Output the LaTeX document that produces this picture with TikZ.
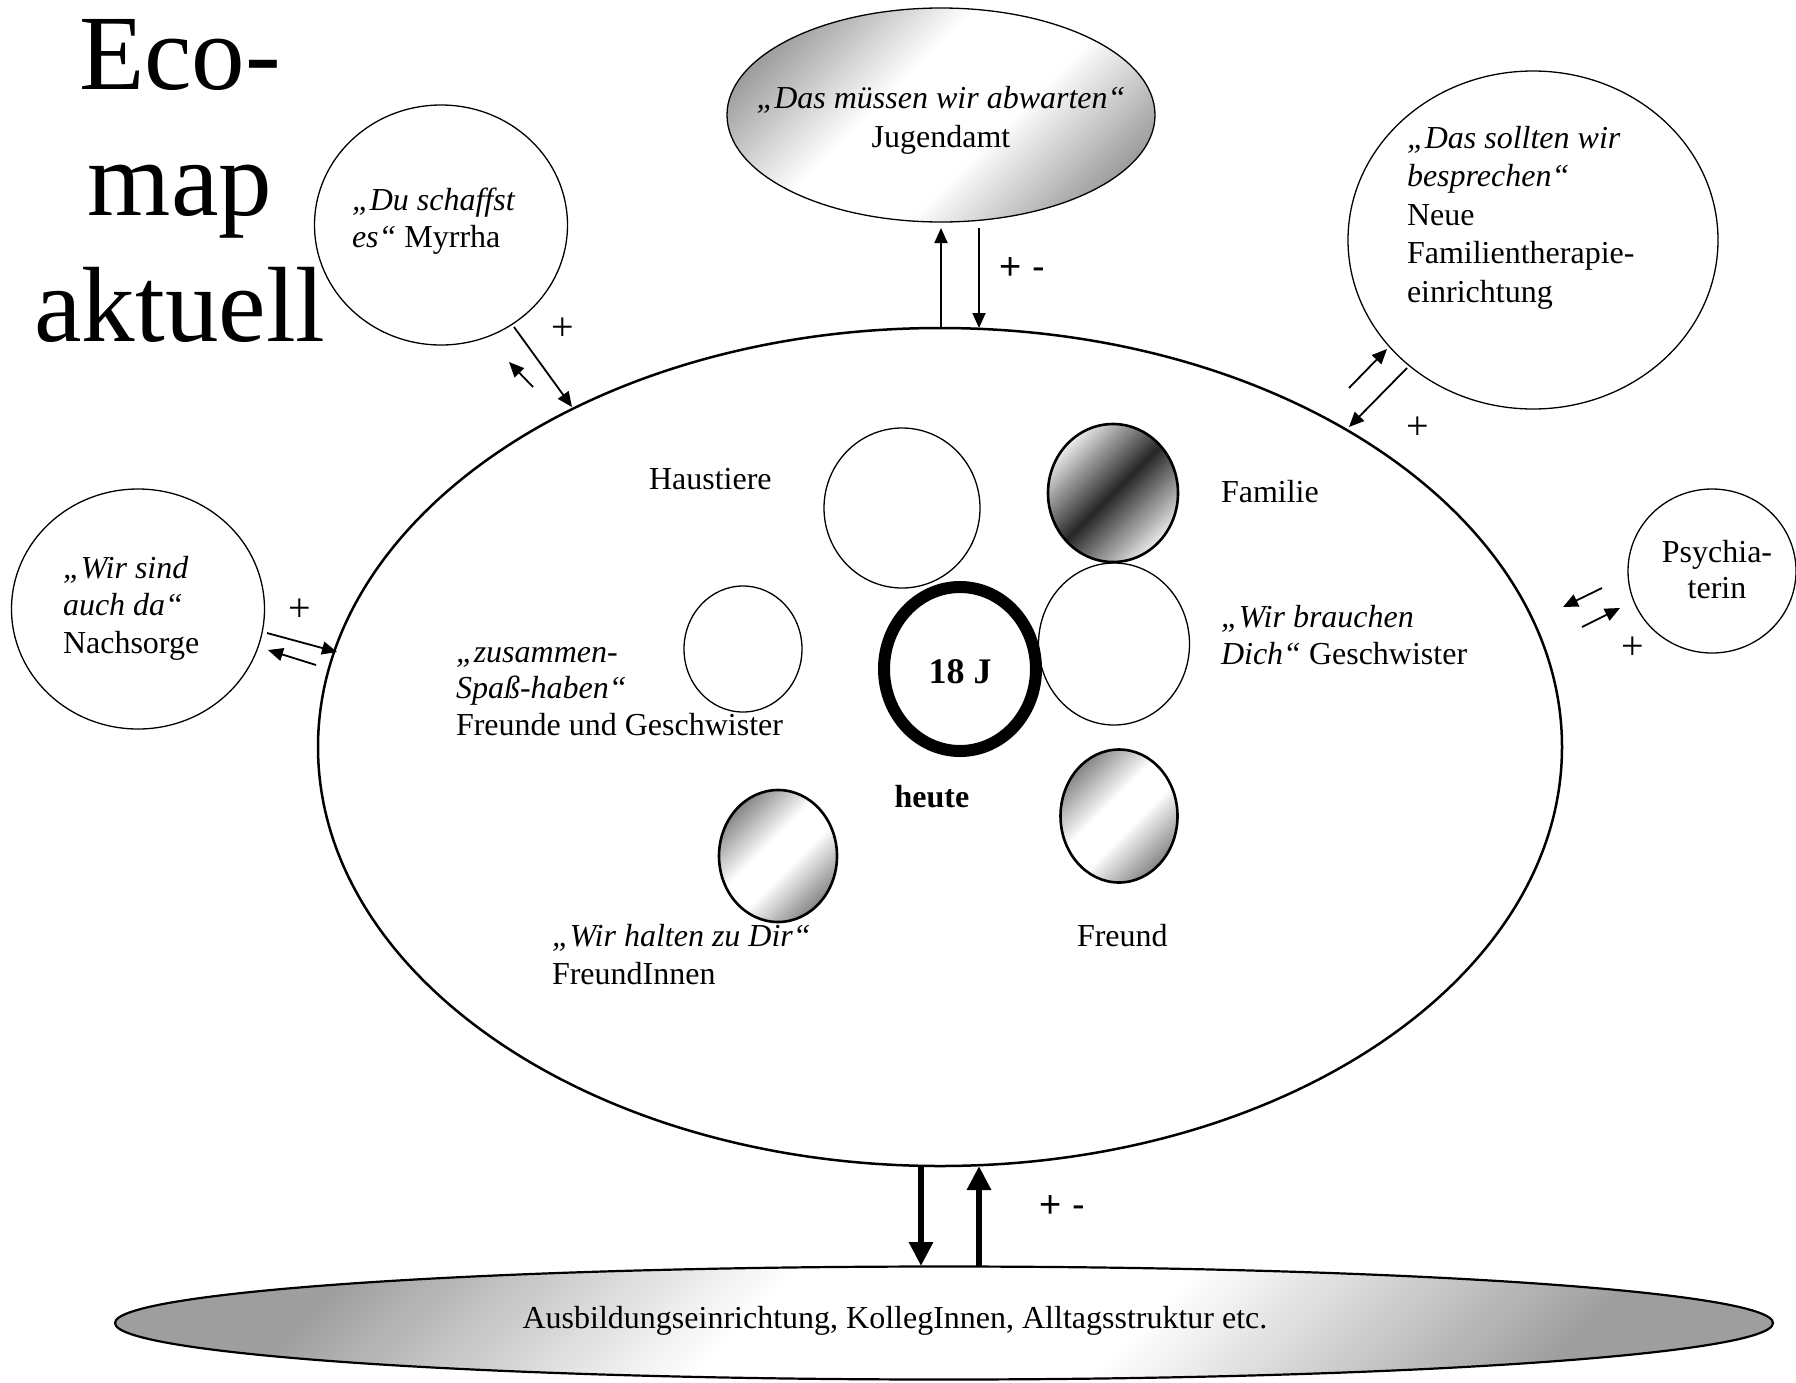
\documentclass[tikz,border=0pt]{standalone}
\usepackage{fontspec}
\setmainfont{Liberation Serif}
\newfontfamily\signfont{Liberation Sans}
\usetikzlibrary{shapes.geometric,arrows.meta}

% diagonal gradients: light band through the middle, grey edges (and the reverse)
\pgfdeclarehorizontalshading{diaglight}{100bp}{color(0bp)=(black!50); color(24bp)=(black!50); color(44bp)=(white); color(56bp)=(white); color(76bp)=(black!50); color(100bp)=(black!50)}
\pgfdeclarehorizontalshading{diagsoft}{100bp}{color(0bp)=(black!38); color(24bp)=(black!38); color(42bp)=(white); color(58bp)=(white); color(76bp)=(black!38); color(100bp)=(black!38)}
\pgfdeclarehorizontalshading{diagdark}{100bp}{color(0bp)=(black!8); color(25bp)=(black!8); color(50bp)=(black!85); color(75bp)=(black!8); color(100bp)=(black!8)}

\begin{document}
\begin{tikzpicture}[x=1pt,y=-1pt,
  every node/.style={inner sep=0pt, outer sep=0pt, font=\fontsize{32}{37.5}\selectfont},
  oval/.style 2 args={ellipse, draw, minimum width=#1pt, minimum height=#2pt},
  thinring/.style={line width=1.3pt},
  boldring/.style={line width=2.6pt},
  lightshade/.style={shade, shading=diaglight, shading angle=-45},
  softshade/.style={shade, shading=diagsoft, shading angle=-45},
  darkshade/.style={shade, shading=diagdark, shading angle=-45},
  label/.style={anchor=base west, align=left},
  ctrlabel/.style={anchor=base, align=center},
  sign/.style={font=\fontsize{40}{40}\selectfont},
  signpair/.style={font=\signfont\fontsize{38}{38}\selectfont},
  flow/.style={line width=1.8pt, -{Triangle[length=15pt,width=13pt]}},
  strongflow/.style={line width=6pt, -{Triangle[length=24pt,width=23pt]}}
]
\useasboundingbox (0,0) rectangle (1796,1382);

% title (base anchor = baseline of the last line)
\node[font=\fontsize{107}{126}\selectfont, anchor=base, align=center] (title) at (180,341) {Eco-\\map\\aktuell};

% main system
\node[oval={1244}{838}, line width=2.5pt] (family) at (940,747) {};

% outer systems
\node[oval={428}{214}, thinring, softshade] (amt) at (941,115) {};
\node[ctrlabel, font=\fontsize{32}{39}\selectfont] (amttext) at (941,147) {\textit{„Das müssen wir abwarten“}\\Jugendamt};

\node[oval={253}{240}, thinring] (myrrha) at (441,225) {};
\node[label, font=\fontsize{32}{37}\selectfont] (myrrhatext) at (352,247) {\textit{„Du schaffst}\\\textit{es“} Myrrha};

\node[oval={370}{338}, thinring] (therapie) at (1533,240) {};
\node[label, font=\fontsize{32}{38.5}\selectfont] (therapietext) at (1407,302) {\textit{„Das sollten wir}\\\textit{besprechen“}\\Neue\\Familientherapie-\\einrichtung};

\node[oval={253}{240}, thinring] (nachsorge) at (138,609) {};
\node[label] (nachsorgetext) at (63,653) {\textit{„Wir sind}\\\textit{auch da“}\\Nachsorge};

\node[oval={168}{164}, thinring] (psych) at (1712,571) {};
\node[ctrlabel, font=\fontsize{32}{36}\selectfont] (psychtext) at (1717,598) {Psychia-\\terin};

\node[oval={1658}{113}, line width=2.2pt, softshade] (ausbildung) at (944,1323) {};
\node[anchor=base] (ausbildungtext) at (895,1328) {Ausbildungseinrichtung, KollegInnen, Alltagsstruktur etc.};

% inner circles
\node[oval={156}{160}, thinring] (haustiere) at (902,508) {};
\node[label] (haustieretext) at (649,489) {Haustiere};

\node[oval={130}{138}, boldring, darkshade] (familie) at (1113,493) {};
\node[label] (familietext) at (1221,502) {Familie};

\node[oval={151}{162}, thinring] (geschwister) at (1114,644) {};
\node[label, font=\fontsize{32}{37}\selectfont] (geschwistertext) at (1221,664) {\textit{„Wir brauchen}\\\textit{Dich“} Geschwister};

\node[oval={118}{126}, thinring] (freunde) at (743,649) {};
\node[label, font=\fontsize{32}{36.5}\selectfont] (freundetext) at (456,735) {\textit{„zusammen-}\\\textit{Spaß-haben“}\\Freunde und Geschwister};

\node[oval={118}{132}, boldring, lightshade] (freundinnen) at (778,856) {};
\node[label, font=\fontsize{32}{38}\selectfont] (freundinnentext) at (552,984) {\textit{„Wir halten zu Dir“}\\FreundInnen};

\node[oval={117}{133}, boldring, lightshade] (freund) at (1119,816) {};
\node[label] (freundtext) at (1077,946) {Freund};

\node[oval={152}{164}, line width=12pt] (ich) at (960,669) {};
\node[anchor=base, font=\bfseries\fontsize{36}{40}\selectfont] (ichtext) at (960,683) {18 J};
\node[anchor=base, font=\bfseries\fontsize{32}{37.5}\selectfont] (heute) at (932,807) {heute};

% arrow end points
\coordinate (amtA) at (941,328);  \coordinate (amtB) at (941,228);
\coordinate (amtC) at (979,228);  \coordinate (amtD) at (979,328);
\coordinate (myrA) at (514,327);  \coordinate (myrB) at (572,407);
\coordinate (myrC) at (533,387);  \coordinate (myrD) at (509,362);
\coordinate (theA) at (1349,388); \coordinate (theB) at (1387,349);
\coordinate (theC) at (1407,368); \coordinate (theD) at (1349,427);
\coordinate (nachA) at (267,633); \coordinate (nachB) at (337,652);
\coordinate (nachC) at (316,665); \coordinate (nachD) at (268,650);
\coordinate (psyA) at (1602,588); \coordinate (psyB) at (1563,607);
\coordinate (psyC) at (1582,627); \coordinate (psyD) at (1620,608);
\coordinate (ausA) at (921,1166); \coordinate (ausB) at (921,1266);
\coordinate (ausC) at (979,1266); \coordinate (ausD) at (979,1166);

% exchanges
\draw[flow] (amtA) -- (amtB);
\draw[flow] (amtC) -- (amtD);
\draw[flow] (myrA) -- (myrB);
\draw[flow] (myrC) -- (myrD);
\draw[flow] (theA) -- (theB);
\draw[flow] (theC) -- (theD);
\draw[flow] (nachA) -- (nachB);
\draw[flow] (nachC) -- (nachD);
\draw[flow] (psyA) -- (psyB);
\draw[flow] (psyC) -- (psyD);
\draw[strongflow] (ausA) -- (ausB);
\draw[strongflow] (ausC) -- (ausD);

% quality of the exchanges
\node[signpair] (amtsign) at (1022,269) {+ -};
\node[sign] (myrsign) at (563,329) {+};
\node[sign] (thesign) at (1418,428) {+};
\node[sign] (nachsign) at (300,610) {+};
\node[sign] (psysign) at (1633,648) {+};
\node[signpair] (aussign) at (1062,1207) {+ -};
\end{tikzpicture}
\end{document}
